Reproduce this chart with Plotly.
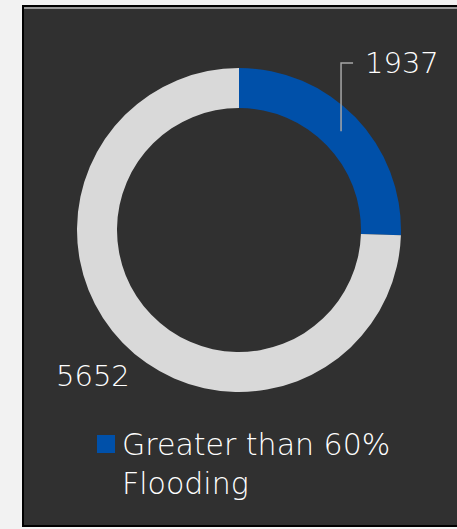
import math
import plotly.graph_objects as go

# Flooding counts
categories = ["Greater than 60% Flooding", "60% or less"]
values = [1937, 5652]
colors = ["#0050A9", "#D9D9D9"]

W, H = 457, 529
CX, CY = 239, 230          # donut centre, px
R_OUT, R_IN = 162, 122     # ring radii, px
FONT = "DejaVu Sans"
TEXT = dict(family=FONT, size=29, color="#FFFFFF", weight=200)
LEGEND_TEXT = dict(family=FONT, size=30, color="#FFFFFF", weight=200)


def px(x):
    return x / W


def py(y):
    return 1 - y / H


fig = go.Figure(
    go.Pie(
        labels=categories,
        values=values,
        marker=dict(colors=colors, line=dict(width=0)),
        hole=R_IN / R_OUT,
        sort=False,
        direction="clockwise",
        rotation=0,
        textinfo="none",
        hoverinfo="label+value",
        showlegend=False,
        domain=dict(x=[px(CX - R_OUT), px(CX + R_OUT)],
                    y=[py(CY + R_OUT), py(CY - R_OUT)]),
    )
)

total = sum(values)
starts = [sum(values[:i]) for i in range(len(values))]
mids = [(s + v / 2) / total * 2 * math.pi for s, v in zip(starts, values)]


def polar(r, a):
    return CX + r * math.sin(a), CY - r * math.cos(a)


shapes = [
    # dark panel with its frame
    dict(type="rect", xref="paper", yref="paper",
         x0=px(23), x1=px(470), y0=py(526), y1=py(6),
         fillcolor="#303030", line=dict(color="#000000", width=2), layer="below"),
    dict(type="line", xref="paper", yref="paper",
         x0=px(24), x1=1, y0=py(8), y1=py(8),
         line=dict(color="#FFFFFF", width=1), layer="below"),
]

annotations = []

# leader line and label for the first slice
lx, ly = polar((R_OUT + R_IN) / 2, mids[0])
top_y = 63
shapes.append(dict(type="path", xref="paper", yref="paper",
                   path=f"M {px(lx)},{py(ly)} L {px(lx)},{py(top_y)} L {px(lx + 12)},{py(top_y)}",
                   line=dict(color="#A6A6A6", width=1.5)))
annotations.append(dict(text=str(values[0]), x=px(lx + 22), y=py(top_y), xref="paper", yref="paper",
                        xanchor="left", yanchor="middle", showarrow=False, font=TEXT))

# label for the second slice, placed outside the ring on its midpoint
ox, oy = polar(208, mids[1])
annotations.append(dict(text=str(values[1]), x=px(ox + 3), y=py(oy + 1), xref="paper", yref="paper",
                        xanchor="center", yanchor="middle", showarrow=False, font=TEXT))

# legend entry for the first slice
shapes.append(dict(type="rect", xref="paper", yref="paper",
                   x0=px(97), x1=px(115), y0=py(453), y1=py(435),
                   fillcolor=colors[0], line=dict(width=0)))
annotations.append(dict(text="Greater than 60%<br>Flooding", x=px(120), y=py(464),
                        xref="paper", yref="paper", xanchor="left", yanchor="middle",
                        align="left", showarrow=False, font=LEGEND_TEXT))

fig.update_layout(
    width=W, height=H,
    margin=dict(l=0, r=0, t=0, b=0),
    paper_bgcolor="#F2F2F2",
    plot_bgcolor="#F2F2F2",
    shapes=shapes,
    annotations=annotations,
)

fig.write_html("out.html")
